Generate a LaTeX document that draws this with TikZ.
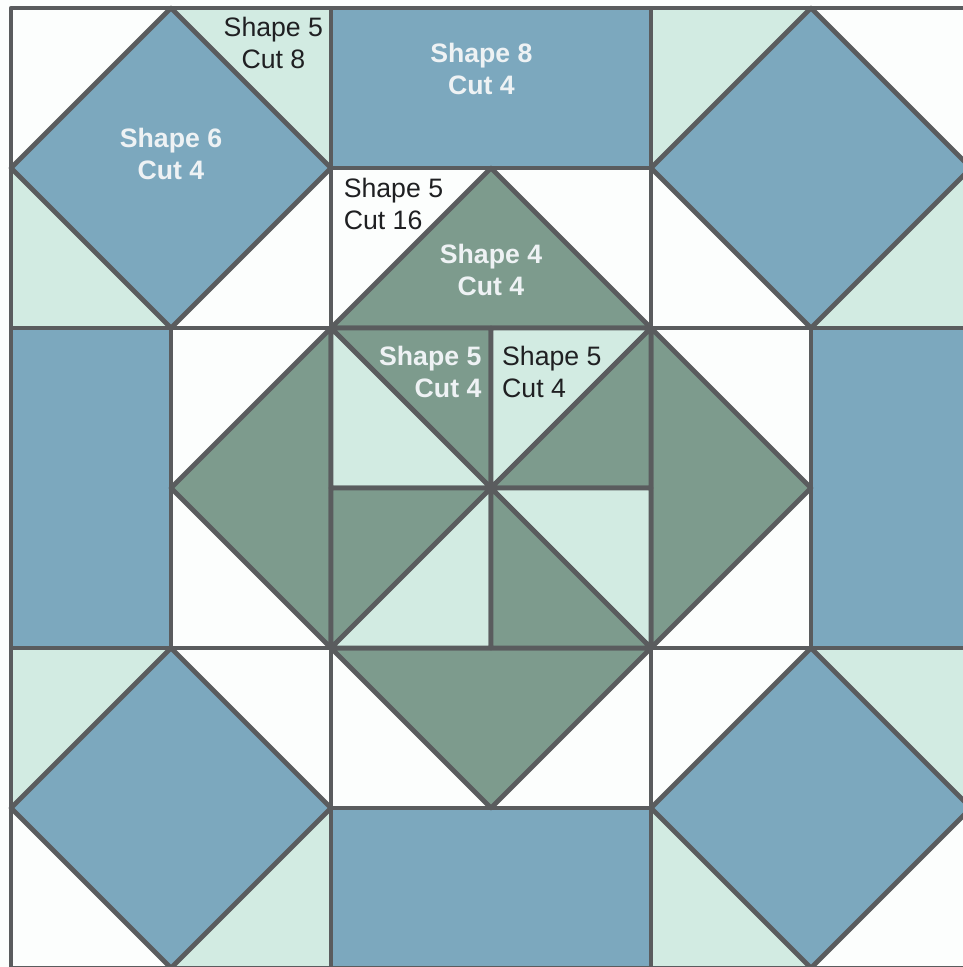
\documentclass[tikz,border=0pt]{standalone}
\usepackage{fontspec}
\setmainfont{Liberation Sans}
\definecolor{quiltBlue}{HTML}{7CA8BE}
\definecolor{quiltGreen}{HTML}{7D9B8D}
\definecolor{quiltMint}{HTML}{D2EBE2}
\definecolor{quiltWhite}{HTML}{FCFEFD}
\definecolor{quiltInk}{HTML}{5A5C5E}
\definecolor{quiltText}{HTML}{1F2022}
\definecolor{quiltPale}{HTML}{EEF2F4}
\tikzset{
  quilt diagram/.style={
    line width=3.5pt, line join=round,
    every node/.style={font=\fontsize{20}{24}\selectfont,
      text=quiltText, inner sep=0pt, outer sep=0pt}
  },
  quilt blue/.style={draw=quiltInk, fill=quiltBlue},
  quilt green/.style={draw=quiltInk, fill=quiltGreen},
  quilt mint/.style={draw=quiltInk, fill=quiltMint},
  quilt seam/.style={draw=quiltInk},
  pale label/.style={text=quiltPale, font=\fontsize{20}{24}\selectfont\bfseries}
}
\begin{document}
\begin{tikzpicture}[quilt diagram,x=12pt,y=12pt]
    \useasboundingbox (-0.6875,0.0625) rectangle (59.5,60.5);
    \clip (-0.6875,0.0625) rectangle (59.5,60.5);
    \fill[quiltWhite] (-0.6875,0.0625) rectangle (59.5,60.5);
    % mint corners of the four outer blocks
    \fill[quiltMint] (10,60) -- (20,60) -- (20,50) -- cycle;
    \fill[quiltMint] (0,50) -- (0,40) -- (10,40) -- cycle;
    \fill[quiltMint] (40,60) -- (50,60) -- (40,50) -- cycle;
    \fill[quiltMint] (60,50) -- (60,40) -- (50,40) -- cycle;
    \fill[quiltMint] (0,20) -- (10,20) -- (0,10) -- cycle;
    \fill[quiltMint] (20,10) -- (20,0) -- (10,0) -- cycle;
    \fill[quiltMint] (50,20) -- (60,20) -- (60,10) -- cycle;
    \fill[quiltMint] (40,10) -- (40,0) -- (50,0) -- cycle;
    % blue diamonds and bars
    \foreach \cx/\cy in {10/50,50/50,10/10,50/10}
      \draw[quilt blue] (\cx,\cy+10) -- (\cx+10,\cy) -- (\cx,\cy-10) -- (\cx-10,\cy) -- cycle;
    \draw[quilt blue] (20,50) rectangle (40,60);
    \draw[quilt blue] (20,0) rectangle (40,10);
    \draw[quilt blue] (0,20) rectangle (10,40);
    \draw[quilt blue] (50,20) rectangle (60,40);
    % green triangles round the centre
    \draw[quilt green] (20,40) -- (30,50) -- (40,40) -- cycle;
    \draw[quilt green] (20,20) -- (30,10) -- (40,20) -- cycle;
    \draw[quilt green] (20,40) -- (10,30) -- (20,20) -- cycle;
    \draw[quilt green] (40,40) -- (50,30) -- (40,20) -- cycle;
    % centre pinwheel
    \draw[quilt green] (20,40) -- (30,40) -- (30,30) -- cycle;
    \draw[quilt mint] (20,40) -- (20,30) -- (30,30) -- cycle;
    \draw[quilt mint] (30,40) -- (40,40) -- (30,30) -- cycle;
    \draw[quilt green] (40,40) -- (40,30) -- (30,30) -- cycle;
    \draw[quilt green] (20,30) -- (30,30) -- (20,20) -- cycle;
    \draw[quilt mint] (30,30) -- (30,20) -- (20,20) -- cycle;
    \draw[quilt mint] (30,30) -- (40,30) -- (40,20) -- cycle;
    \draw[quilt green] (30,30) -- (40,20) -- (30,20) -- cycle;
    % seams
    \draw[quilt seam] (0,0) rectangle (60,60);
    \draw[quilt seam] (0,40) -- (60,40);
    \draw[quilt seam] (0,20) -- (60,20);
    \draw[quilt seam] (20,0) -- (20,60);
    \draw[quilt seam] (40,0) -- (40,60);
    \draw[quilt seam] (10,20) -- (10,40);
    \draw[quilt seam] (50,20) -- (50,40);
    % labels
    \node[align=center] (cornerLabel) at (16.4,57.8) {Shape 5\\Cut 8};
    \node[pale label,align=center] (barLabel) at (29.4,56.2) {Shape 8\\Cut 4};
    \node[pale label,align=center] (diamondLabel) at (10,50.9) {Shape 6\\Cut 4};
    \node[anchor=west,align=left] (whiteLabel) at (20.8,47.75) {Shape 5\\Cut 16};
    \node[pale label,align=center] (greenLabel) at (30,43.6) {Shape 4\\Cut 4};
    \node[pale label,anchor=east,align=right] (pinDarkLabel) at (29.4,37.25) {Shape 5\\Cut 4};
    \node[anchor=west,align=left] (pinMintLabel) at (30.7,37.25) {Shape 5\\Cut 4};
  \end{tikzpicture}
\end{document}
